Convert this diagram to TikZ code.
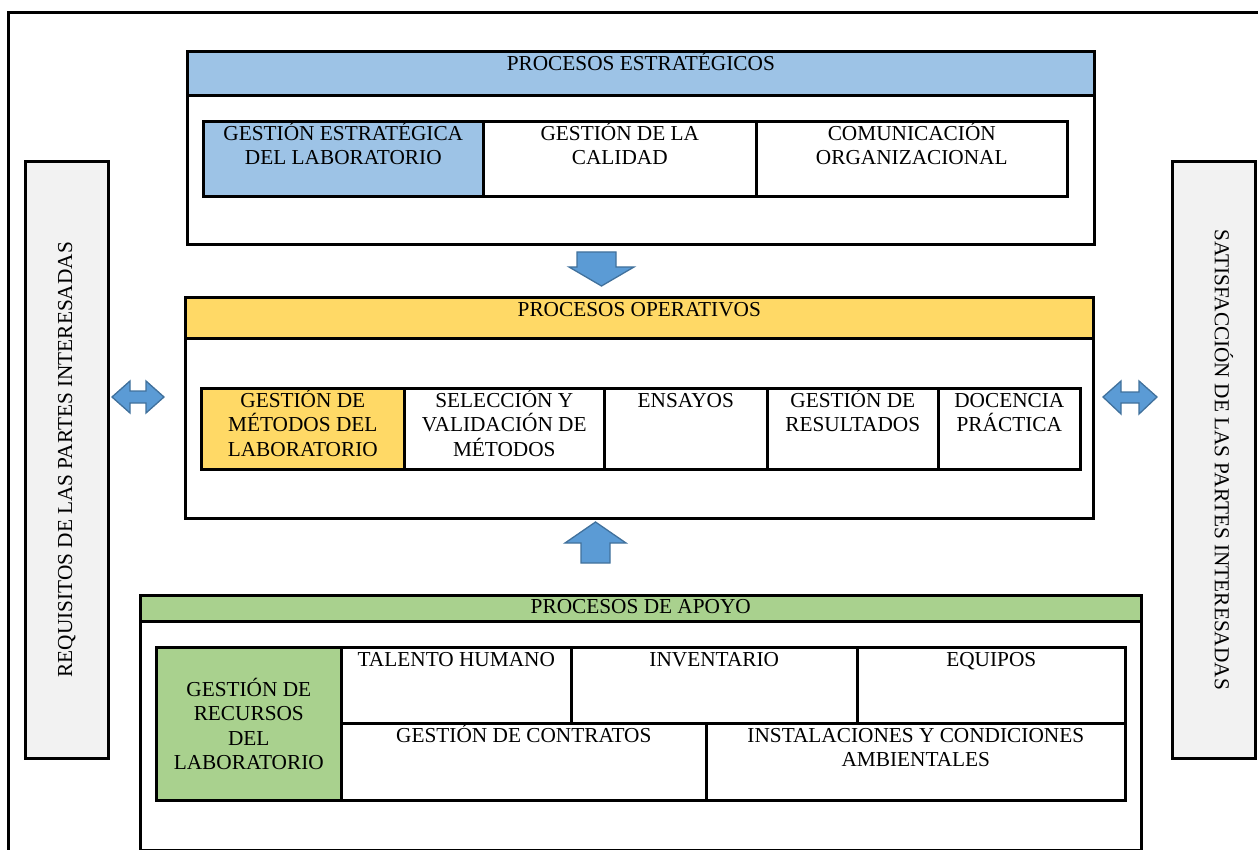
\documentclass[tikz,border=0pt]{standalone}
\usepackage{fontspec}
\setmainfont{Liberation Serif}
\definecolor{stblue}{HTML}{9DC3E6}
\definecolor{opyellow}{HTML}{FFD966}
\definecolor{apgreen}{HTML}{A9D18E}
\definecolor{sidegray}{HTML}{F2F2F2}
\definecolor{arrowfill}{HTML}{5B9BD5}
\definecolor{arrowline}{HTML}{41719C}
% zero-width strut fixing the first baseline of a cell text
\newcommand\firstline{\rule{0pt}{22pt}}
% \cellbox{name}{x1}{y1}{x2}{y2}{fill}{text}: box with top-aligned text
\newcommand\cellbox[7]{%
  \node[cell, fill=#6, minimum width={#4pt-#2pt}, minimum height={#5pt-#3pt}] (#1) at (#2,#3) {};
  \node[celltext, anchor=north] (#1-t) at ([yshift=2pt]#1.north) {\firstline#7};
}
\begin{document}
\begin{tikzpicture}[x=1pt,y=-1pt,
  cell/.style={draw=black, line width=2.6pt, inner sep=0pt, anchor=north west},
  celltext/.style={font=\fontsize{21.3}{24.5}\selectfont, align=center, inner sep=0pt},
  blockarrow/.style={fill=arrowfill, draw=arrowline, line width=1.3pt, line join=miter}]
\useasboundingbox (0,0) rectangle (1258,850);

% outer frame
\draw[line width=3pt] (8.5,852) -- (8.5,12.5) -- (1260,12.5);

% side panels
\node[cell, fill=sidegray, minimum width=83pt, minimum height=597pt] (req) at (24,160) {};
\node[celltext, rotate=90] (req-t) at (req.center) {REQUISITOS DE LAS PARTES INTERESADAS};
\node[cell, fill=sidegray, minimum width=83pt, minimum height=597pt] (sat) at (1171,160) {};
\node[celltext, rotate=-90] (sat-t) at ([xshift=10pt]sat.center) {SATISFACCIÓN DE LAS PARTES INTERESADAS};

% strategic processes
\cellbox{st}{186}{50}{1093}{243}{white}{}
\cellbox{sthead}{186}{50}{1093}{94}{stblue}{PROCESOS ESTRATÉGICOS}
\cellbox{st1}{202}{120}{482}{195}{stblue}{GESTIÓN ESTRATÉGICA\\DEL LABORATORIO}
\cellbox{st2}{482}{120}{755}{195}{white}{GESTIÓN DE LA\\CALIDAD}
\cellbox{st3}{755}{120}{1066}{195}{white}{COMUNICACIÓN\\ORGANIZACIONAL}

% operative processes
\cellbox{op}{184}{296}{1092}{517}{white}{}
\cellbox{ophead}{184}{296}{1092}{337}{opyellow}{PROCESOS OPERATIVOS}
\cellbox{op1}{200}{387}{403}{468}{opyellow}{GESTIÓN DE\\MÉTODOS DEL\\LABORATORIO}
\cellbox{op2}{403}{387}{603}{468}{white}{SELECCIÓN Y\\VALIDACIÓN DE\\MÉTODOS}
\cellbox{op3}{603}{387}{766}{468}{white}{ENSAYOS}
\cellbox{op4}{766}{387}{937}{468}{white}{GESTIÓN DE\\RESULTADOS}
\cellbox{op5}{937}{387}{1079}{468}{white}{DOCENCIA\\PRÁCTICA}

% support processes
\cellbox{ap}{139}{594}{1140}{849}{white}{}
\node[cell, fill=apgreen, minimum width=1001pt, minimum height=26pt] (aphead) at (139,594) {};
\node[celltext] (aphead-t) at ([yshift=1.5pt]aphead.center) {PROCESOS DE APOYO};
\node[cell, fill=apgreen, minimum width=185pt, minimum height=153pt] (ap0) at (155,646) {};
\node[celltext] (ap0-t) at (ap0.center) {GESTIÓN DE\\RECURSOS\\DEL\\LABORATORIO};
\cellbox{ap1}{340}{646}{570}{722}{white}{TALENTO HUMANO}
\cellbox{ap2}{570}{646}{856}{722}{white}{INVENTARIO}
\cellbox{ap3}{856}{646}{1124}{722}{white}{EQUIPOS}
\cellbox{ap4}{340}{722}{705}{799}{white}{GESTIÓN DE CONTRATOS}
\cellbox{ap5}{705}{722}{1124}{799}{white}{INSTALACIONES Y CONDICIONES\\AMBIENTALES}

% block arrows between the panels
\draw[blockarrow] (577,252) -- (616,252) -- (616,267) -- (634,267) -- (601.5,286) -- (569,267) -- (577,267) -- cycle;
\draw[blockarrow] (581,563) -- (610,563) -- (610,543) -- (626,543) -- (595.5,522) -- (565,543) -- (581,543) -- cycle;
\draw[blockarrow] (112,397) -- (130,381) -- (130,391) -- (146,391) -- (146,381) -- (164,397) -- (146,413) -- (146,403) -- (130,403) -- (130,413) -- cycle;
\draw[blockarrow] (1103,397) -- (1121,381) -- (1121,392) -- (1139,392) -- (1139,381) -- (1157,397) -- (1139,414) -- (1139,403) -- (1121,403) -- (1121,414) -- cycle;
\end{tikzpicture}
\end{document}
